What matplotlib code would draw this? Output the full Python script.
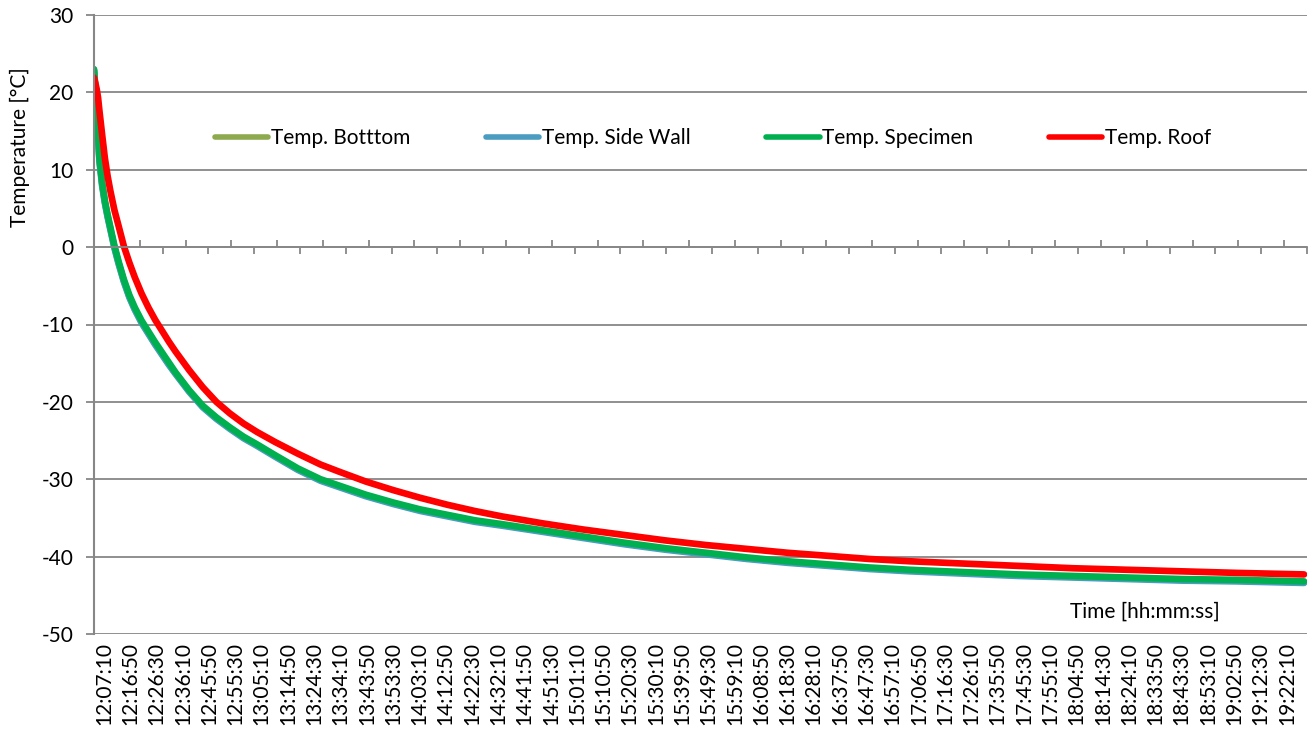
import matplotlib.pyplot as plt
import matplotlib.transforms as mtransforms
from matplotlib.ticker import MultipleLocator, FuncFormatter, NullFormatter

plt.rcParams['font.family'] = ['Lato', 'DejaVu Sans']
plt.rcParams['axes.unicode_minus'] = False

# seconds after 12:07:10
t_sec = [0, 30, 60, 90, 120, 180, 240, 300, 360, 450, 540, 660, 780, 900, 1050,
         1200, 1350, 1500, 1650, 1800, 2100, 2400, 2700, 3000, 3300, 3600, 4000,
         4500, 5000, 5400, 6000, 6600, 7200, 7800, 8400, 9000, 9900, 10800, 11700,
         12600, 13500, 14400, 15300, 16200, 17100, 18000, 19200, 20400, 21600,
         22800, 24000, 25200, 26700]

temp_specimen = [23.0, 20.5, 17.5, 14.5, 11.5, 8.3, 6.0, 4.2, 2.6, 0.2, -1.8, -4.2,
                 -6.2, -7.8, -9.5, -10.9, -12.3, -13.6, -14.9, -16.2, -18.5, -20.5,
                 -22.0, -23.3, -24.5, -25.5, -26.9, -28.6, -30.0, -30.8, -32.0, -33.0,
                 -33.9, -34.6, -35.3, -35.8, -36.6, -37.4, -38.2, -38.9, -39.5, -40.1,
                 -40.6, -41.0, -41.4, -41.7, -42.0, -42.3, -42.5, -42.7, -42.9, -43.0,
                 -43.2]
temp_side_wall = [22.8, 20.2, 17.1, 14.1, 11.1, 7.9, 5.7, 3.9, 2.3, -0.1, -2.1, -4.5,
                  -6.5, -8.1, -9.8, -11.2, -12.6, -13.9, -15.2, -16.4, -18.7, -20.7,
                  -22.2, -23.5, -24.7, -25.7, -27.1, -28.8, -30.2, -31.0, -32.2, -33.2,
                  -34.1, -34.8, -35.5, -36.0, -36.8, -37.6, -38.4, -39.1, -39.7, -40.3,
                  -40.8, -41.2, -41.6, -41.9, -42.2, -42.5, -42.7, -42.9, -43.1, -43.2,
                  -43.4]
temp_bottom = [22.9, 20.3, 17.3, 14.3, 11.3, 8.1, 5.8, 4.0, 2.4, 0.0, -2.0, -4.4,
               -6.4, -8.0, -9.7, -11.1, -12.5, -13.8, -15.1, -16.3, -18.6, -20.6,
               -22.1, -23.4, -24.6, -25.6, -27.0, -28.7, -30.1, -30.9, -32.1, -33.1,
               -34.0, -34.7, -35.4, -35.9, -36.7, -37.5, -38.3, -39.0, -39.6, -40.2,
               -40.7, -41.1, -41.5, -41.8, -42.1, -42.4, -42.6, -42.8, -43.0, -43.1,
               -43.3]
temp_roof = [21.9, 21.2, 20.4, 19.3, 17.6, 14.5, 11.5, 9.2, 7.3, 4.8, 2.8, 0.1,
             -2.0, -3.9, -6.0, -7.8, -9.4, -10.8, -12.2, -13.5, -15.9, -18.1,
             -20.0, -21.5, -22.8, -23.9, -25.2, -26.7, -28.1, -29.0, -30.3, -31.4,
             -32.4, -33.3, -34.1, -34.8, -35.7, -36.5, -37.2, -37.9, -38.5, -39.0,
             -39.5, -39.9, -40.3, -40.6, -40.9, -41.2, -41.5, -41.7, -41.9, -42.1,
             -42.3]

start_h, start_m, start_s = 12, 7, 10
label_step = 580     # 9:40 between labels
tick_step = 505

fig = plt.figure(figsize=(13.09, 7.29), dpi=100)
ax = fig.add_axes([94/1309, 1 - 634/729, (1307-94)/1309, (634-15)/729])

grey = '#878787'
lw = 4.8
fs = 15
ax.plot(t_sec, temp_bottom, color='#8DAA4F', lw=lw, label='Temp. Botttom', solid_capstyle='round')
ax.plot(t_sec, temp_side_wall, color='#4A9CC0', lw=lw, label='Temp. Side Wall', solid_capstyle='round')
ax.plot(t_sec, temp_specimen, color='#00B050', lw=lw, label='Temp. Specimen', solid_capstyle='round')
ax.plot(t_sec, temp_roof, color='#FF0000', lw=lw, label='Temp. Roof', solid_capstyle='round')

ax.set_xlim(0, 53*tick_step)
ax.set_ylim(-50, 30)
ax.set_yticks(range(-50, 31, 10))
ax.yaxis.grid(True, color=grey, lw=1.3)
ax.set_axisbelow(True)
ax.tick_params(axis='y', length=6, width=1.3, color=grey, labelsize=fs, pad=9)

for s in ['top', 'right']:
    ax.spines[s].set_visible(False)
ax.spines['left'].set_color(grey)
ax.spines['left'].set_linewidth(1.5)

# horizontal axis crossing at 0 with tick marks
ax.spines['bottom'].set_position(('data', 0))
ax.spines['bottom'].set_color(grey)
ax.spines['bottom'].set_linewidth(1.3)
ax.xaxis.set_major_locator(MultipleLocator(2*tick_step))
ax.xaxis.set_minor_locator(MultipleLocator(tick_step))
ax.xaxis.set_major_formatter(NullFormatter())
ax.tick_params(axis='x', which='major', direction='in', length=5, width=1.3, color=grey)
ax.tick_params(axis='x', which='minor', direction='out', length=5, width=1.3, color=grey)


def hms(x, pos):
    s = int(round(x)) + start_h*3600 + start_m*60 + start_s
    return '%d:%02d:%02d' % (s // 3600, (s % 3600) // 60, s % 60)


sec = ax.secondary_xaxis('bottom')
sec.set_xticks(range(0, 45*label_step + 1, label_step))
sec.xaxis.set_major_formatter(FuncFormatter(hms))
sec.tick_params(length=0, labelsize=fs, pad=6, labelrotation=90)
sec.spines['bottom'].set_visible(False)
shift = mtransforms.ScaledTranslation(10/100, 0, fig.dpi_scale_trans)
for lbl in sec.get_xticklabels():
    lbl.set_transform(lbl.get_transform() + shift)

ax.set_ylabel('Temperature [°C]', fontsize=fs)
ax.yaxis.set_label_coords(-0.053, 0.787)

ax.text(1145/1309, 1 - 612/729, 'Time [hh:mm:ss]', transform=fig.transFigure,
        ha='center', va='center', fontsize=fs)

leg = ax.legend(loc='center', bbox_to_anchor=(713/1309, 1 - 138/729),
                bbox_transform=fig.transFigure, ncol=4, frameon=False, fontsize=fs,
                handlelength=2.55, handletextpad=0.12, columnspacing=3.65)
for h in leg.get_lines():
    h.set_linewidth(4)
    h.set_solid_capstyle('round')

fig.savefig('out.png', dpi=100)
